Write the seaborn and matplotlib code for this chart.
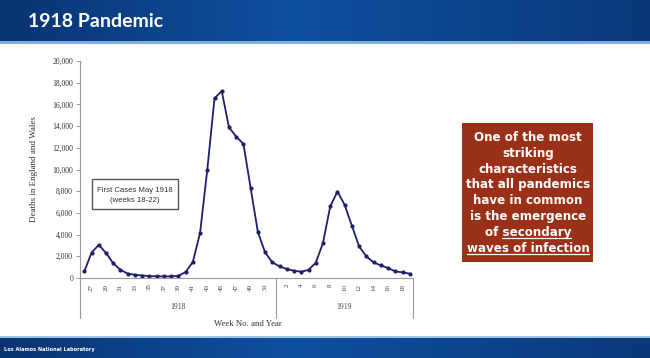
import numpy as np
import pandas as pd
import seaborn as sns
import matplotlib.pyplot as plt
from matplotlib.patches import Rectangle

# weekly deaths, England and Wales
weeks_1918 = list(range(26, 53))
deaths_1918 = [600, 2350, 3050, 2300, 1350, 750, 400, 300, 230, 180, 150, 150, 150, 200,
               550, 1470, 4140, 9960, 16560, 17230, 13890, 13030, 12360, 8280, 4230, 2360, 1440]
weeks_1919 = list(range(1, 20))
deaths_1919 = [1070, 830, 670, 580, 750, 1400, 3220, 6590, 7970, 6740, 4810, 2910, 1990,
               1440, 1160, 920, 610, 520, 400]

title = "1918 Pandemic"
footer = "Los Alamos National Laboratory"
note_lines = ["First Cases May 1918", "(weeks 18-22)"]
box_lines = ["One of the most", "striking", "characteristics", "that all pandemics",
             "have in common", "is the emergence", "of secondary", "waves of infection"]

df = pd.DataFrame({
    "year": ["1918"] * len(weeks_1918) + ["1919"] * len(weeks_1919),
    "week": weeks_1918 + weeks_1919,
    "deaths": deaths_1918 + deaths_1919,
})
df["pos"] = np.arange(len(df))

sns.set_style("white")
plt.rcParams["font.family"] = ["DejaVu Sans"]

W, H = 650, 358
fig = plt.figure(figsize=(6.5, 3.58), dpi=100)
fig.patch.set_facecolor("white")

def fx(px):
    return px / W

def fy(py):
    return 1 - py / H

# background bars
bg = fig.add_axes([0, 0, 1, 1], zorder=-5)
bg.set_xlim(0, W)
bg.set_ylim(H, 0)
bg.axis("off")
grad = np.linspace(0, 1, 256)
prof = np.interp(grad, [0, 0.45, 1], [0, 1, 0.15])
c0 = np.array([10, 52, 115]) / 255
c1 = np.array([14, 80, 160]) / 255
img = (c0[None, :] + prof[:, None] * (c1 - c0)[None, :])[None, :, :]
bg.imshow(img, extent=[0, W, 41, 0], aspect="auto")
bg.add_patch(Rectangle((0, 41), W, 2.5, color="#7fb0dd", lw=0))
bg.imshow(img, extent=[0, W, H, 338], aspect="auto")
bg.add_patch(Rectangle((0, 336), W, 2, color="#9cc4e6", lw=0))

fig.text(fx(28), fy(27), title, color="white", fontsize=14, fontweight="bold",
         family="Lato", va="baseline")
fig.text(fx(4), fy(351), footer, color="white", fontsize=3.6, fontweight="bold", va="baseline")

# chart
ax = fig.add_axes([fx(80), fy(278), fx(413 - 80), (278 - 61) / H])
sns.lineplot(data=df, x="pos", y="deaths", ax=ax, color="#1f1f6b", linewidth=1.3,
             marker="o", markersize=3, markeredgewidth=0)
ax.set_xlim(-0.6, len(df) - 0.55)
ax.set_ylim(0, 20000)
ax.set_yticks(np.arange(0, 20001, 2000))
ax.set_yticklabels([f"{v:,}" for v in range(0, 20001, 2000)], family="Liberation Serif",
                   fontsize=5.5, color="#333333")
tick_mask = (df["week"] % 2 == 1) & (df["year"] == "1918") | (df["week"] % 2 == 0) & (df["year"] == "1919")
ticks = df[tick_mask]
ax.set_xticks(ticks["pos"])
ax.set_xticklabels(ticks["week"].astype(str), rotation=90, family="Liberation Serif",
                   fontsize=5, color="#444444")
ax.tick_params(axis="x", length=0, pad=4)
ax.tick_params(axis="y", length=3, width=0.6, color="#888888", direction="out", left=True, pad=2)
ax.set_xlabel("")
ax.set_ylabel("Deaths in England and Wales", family="Liberation Serif", fontsize=6.5,
              color="#333333", labelpad=10)
for s in ["top", "right"]:
    ax.spines[s].set_visible(False)
for s in ["left", "bottom"]:
    ax.spines[s].set_color("#999999")
    ax.spines[s].set_linewidth(0.8)

# year groups under the axis
xt = ax.get_xaxis_transform()
n18 = len(weeks_1918)
bounds = [-0.6, n18 - 0.5, len(df) - 0.55]
for b in bounds:
    ax.plot([b, b], [0, -0.185], transform=xt, color="#999999", lw=0.8, clip_on=False)
for yr, lo, hi in [("1918", bounds[0], bounds[1]), ("1919", bounds[1], bounds[2])]:
    ax.text((lo + hi) / 2, -0.135, yr, transform=xt, ha="center", va="center",
            family="Liberation Serif", fontsize=5.5, color="#444444")
fig.text(fx(248), fy(324), "Week No. and Year", ha="center", va="center",
         family="Liberation Serif", fontsize=6.3, color="#333333")

# note box
fig.patches.append(Rectangle((fx(92), fy(209)), fx(178 - 92), (209 - 179) / H,
                             transform=fig.transFigure, facecolor="white",
                             edgecolor="#555555", lw=1.0))
fig.text(fx(135), fy(190), note_lines[0], ha="center", va="center",
         family="Liberation Sans", fontsize=5.6, color="#333333")
fig.text(fx(135), fy(201), note_lines[1], ha="center", va="center",
         family="Liberation Sans", fontsize=5.6, color="#333333")

# red message box
fig.patches.append(Rectangle((fx(462), fy(262)), fx(593 - 462), (262 - 123) / H,
                             transform=fig.transFigure, facecolor="#9b3019", lw=0))
texts = []
for i, line in enumerate(box_lines):
    t = fig.text(fx(528), fy(141 + i * 15.8), line, ha="center", va="baseline",
                 color="white", fontsize=8.6, fontweight="bold")
    texts.append(t)

fig.canvas.draw()
r = fig.canvas.get_renderer()
tmp = fig.text(0, 0, "secondary", fontsize=8.6, fontweight="bold")
w_sec = tmp.get_window_extent(r).width
tmp.remove()
for idx, partial in [(6, True), (7, False)]:
    bb = texts[idx].get_window_extent(r)
    x0 = bb.x1 - w_sec if partial else bb.x0
    base = 141 + idx * 15.8 + 2.5
    fig.add_artist(plt.Line2D([x0 / W, bb.x1 / W], [fy(base), fy(base)],
                              transform=fig.transFigure, color="white", lw=0.9))

fig.savefig("out.png", dpi=100)
